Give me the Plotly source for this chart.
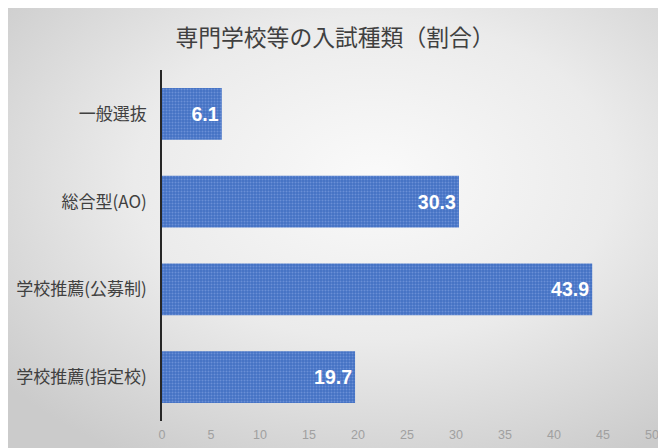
import base64
import plotly.graph_objects as go

categories = ["一般選抜", "総合型(AO)", "学校推薦(公募制)", "学校推薦(指定校)"]
values = [6.1, 30.3, 43.9, 19.7]
x_ticks = [0, 5, 10, 15, 20, 25, 30, 35, 40, 45, 50]

W, H = 666, 448
ML, MR, MT, MB = 154, 22, 62, 35
PW, PH = W - ML - MR, H - MT - MB

svg = f'''<svg xmlns="http://www.w3.org/2000/svg" width="{W}" height="{H}" viewBox="0 0 {W} {H}" preserveAspectRatio="none">
<defs><radialGradient id="g" cx="0.55" cy="0.38" r="0.72">
<stop offset="0" stop-color="#fafafa"/><stop offset="0.5" stop-color="#ebebeb"/><stop offset="1" stop-color="#cbcbcb"/>
</radialGradient></defs>
<rect x="0" y="0" width="{W}" height="{H}" fill="url(#g)"/>
</svg>'''
src = "data:image/svg+xml;base64," + base64.b64encode(svg.encode()).decode()

fig = go.Figure(go.Bar(
    y=categories, x=values, orientation="h",
    marker=dict(color="#4472C4", line=dict(width=0),
                pattern=dict(shape=".", size=3, solidity=0.35,
                             fgcolor="#6a8fd6", bgcolor="#4472C4", fillmode="replace")),
    width=0.59,
    text=[f"{v:.1f}" for v in values], textposition="inside",
    insidetextanchor="end",
    textfont=dict(color="white", size=19.5, family="Liberation Sans, Arial"),
    texttemplate="<b>%{text}</b>",
))

fig.update_layout(
    width=W, height=H,
    margin=dict(l=ML, r=MR, t=MT, b=MB, autoexpand=False),
    paper_bgcolor="white", plot_bgcolor="rgba(0,0,0,0)",
    title=dict(text="専門学校等の入試種類（割合）", x=327 / W, xanchor="center",
               y=1 - 30 / H, yanchor="middle",
               font=dict(size=22.8, color="#404040", family="Noto Sans CJK JP")),
    showlegend=False,
    images=[dict(source=src, xref="paper", yref="paper",
                 x=-ML / PW, y=1 + MT / PH, sizex=W / PW, sizey=H / PH,
                 xanchor="left", yanchor="top", sizing="stretch", layer="below")],
    font=dict(family="Noto Sans CJK JP"),
)
fig.update_xaxes(range=[0, 50], tickvals=x_ticks, showgrid=False, zeroline=False,
                 showline=False, ticks="", fixedrange=True, automargin=False,
                 ticklabelstandoff=4,
                 tickfont=dict(size=12.5, color="#a0a0a0", family="Liberation Sans, Arial"))
fig.update_yaxes(autorange="reversed", showline=True, linecolor="#262626", linewidth=1.5,
                 ticks="", showgrid=False, ticklabelstandoff=10, automargin=False,
                 tickfont=dict(size=17, color="#404040", family="Noto Sans CJK JP"))

fig.write_html("out.html")
